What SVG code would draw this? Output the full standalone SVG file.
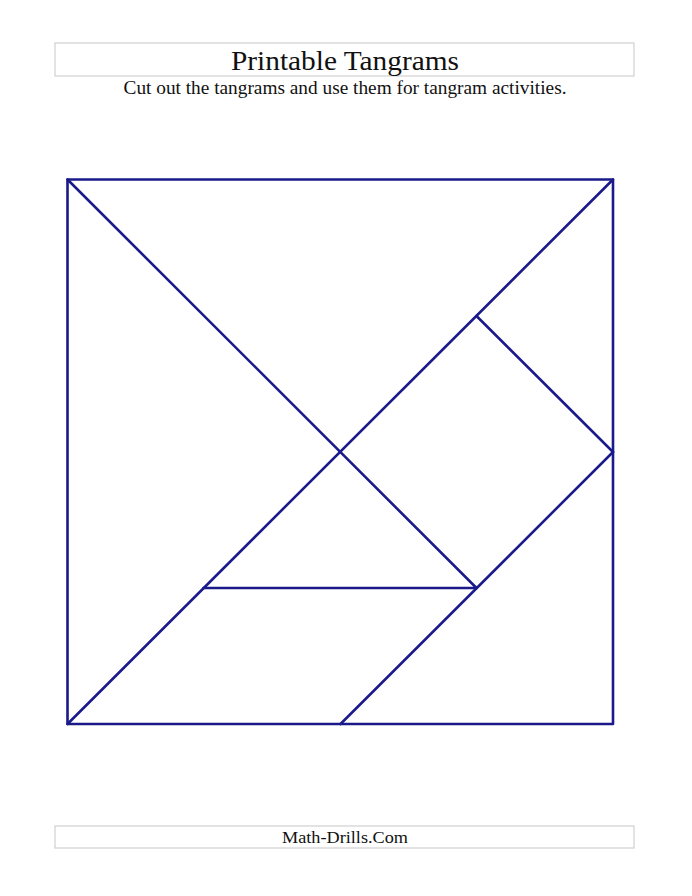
<svg xmlns="http://www.w3.org/2000/svg" width="692" height="896" viewBox="0 0 692 896">
<style>
.box{fill:#fff;stroke:#d0d0d0;stroke-width:1.2}
.t{font-family:"Liberation Serif","DejaVu Serif",serif;fill:#111;text-anchor:middle}
.ln{stroke:#1a1a8a;stroke-width:2.6;fill:none;stroke-linecap:round;stroke-linejoin:round}
</style>
<rect width="692" height="896" fill="#fff"/>
<g id="header">
<rect class="box" x="55" y="43" width="579" height="33"/>
<text class="t" x="345" y="70" font-size="28" textLength="228" lengthAdjust="spacingAndGlyphs">Printable Tangrams</text>
<text class="t" x="345" y="94" font-size="18" textLength="443" lengthAdjust="spacingAndGlyphs">Cut out the tangrams and use them for tangram activities.</text>
</g>
<g id="tangram">
<rect class="ln" x="67.5" y="179.5" width="545.5" height="544.5"/>
</g>
<g id="connectors">
<line class="ln" x1="67.5" y1="724" x2="613" y2="179.5"/>
<line class="ln" x1="67.5" y1="179.5" x2="476.5" y2="588"/>
<line class="ln" x1="203.5" y1="588" x2="476.5" y2="588"/>
<line class="ln" x1="476.5" y1="316" x2="613" y2="452"/>
<line class="ln" x1="613" y1="452" x2="340.5" y2="724"/>
</g>
<g id="footer">
<rect class="box" x="55" y="826" width="579" height="22"/>
<text class="t" x="345" y="843" font-size="17" textLength="126" lengthAdjust="spacingAndGlyphs">Math-Drills.Com</text>
</g>
</svg>
